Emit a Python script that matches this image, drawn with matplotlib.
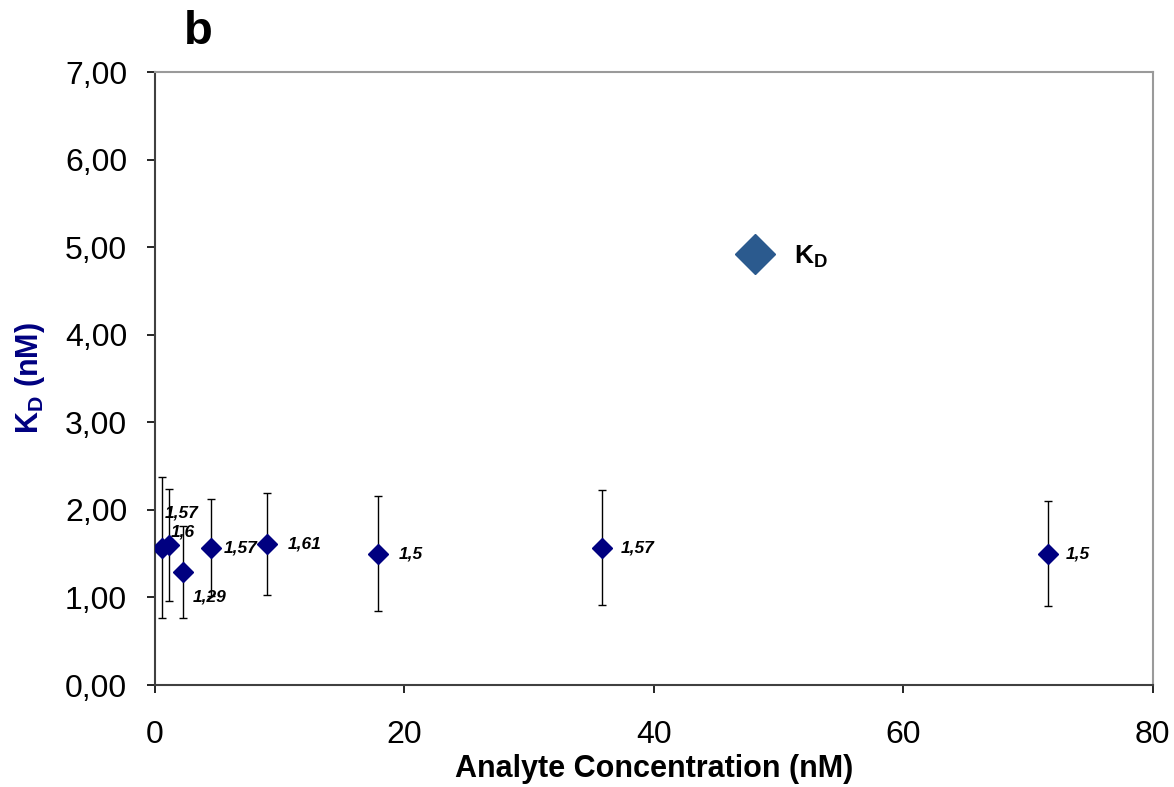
import matplotlib
matplotlib.use("Agg")
import matplotlib.pyplot as plt
from matplotlib.lines import Line2D
from matplotlib.ticker import FuncFormatter

# analyte concentration (nM), fitted KD (nM) and error bar half-widths
conc = [0.56, 1.12, 2.24, 4.48, 8.95, 17.9, 35.8, 71.6]
kd = [1.57, 1.6, 1.29, 1.57, 1.61, 1.5, 1.57, 1.5]
kd_err = [0.81, 0.64, 0.53, 0.55, 0.58, 0.66, 0.66, 0.60]
kd_labels = ["1,57", "1,6", "1,29", "1,57", "1,61", "1,5", "1,57", "1,5"]
x_ticks = [0, 20, 40, 60, 80]
y_ticks = [0, 1, 2, 3, 4, 5, 6, 7]

plt.rcParams["font.family"] = ["Liberation Sans", "DejaVu Sans"]
plt.rcParams["mathtext.fontset"] = "custom"
plt.rcParams["mathtext.rm"] = "Liberation Sans"
plt.rcParams["mathtext.bf"] = "Liberation Sans:bold"
plt.rcParams["mathtext.it"] = "Liberation Sans:italic"

fig = plt.figure(figsize=(11.74, 7.87), dpi=100)
ax = fig.add_axes([0.132, 0.1296, 0.850, 0.7789])

ax.errorbar(conc, kd, yerr=kd_err, fmt="none", ecolor="black",
            elinewidth=1, capsize=3, capthick=1, zorder=2)
ax.plot(conc, kd, linestyle="none", marker="D", markersize=10,
        color="#000080", zorder=3)

# label offsets in points (crowded points near the origin are shifted)
offsets = [(2, 25), (1.5, 9), (7, -18), (9, 0), (15, 0), (15, 0), (14, 0), (13, 0)]
for x, y, lab, off in zip(conc, kd, kd_labels, offsets):
    ax.annotate(lab, (x, y), xytext=off, textcoords="offset points",
                fontsize=12.5, fontweight="bold", fontstyle="italic",
                ha="left", va="center", zorder=4)

ax.set_xlim(0, 80)
ax.set_ylim(0, 7)
ax.set_xticks(x_ticks)
ax.set_yticks(y_ticks)
ax.yaxis.set_major_formatter(FuncFormatter(lambda v, p: f"{v:.2f}".replace(".", ",")))
ax.tick_params(direction="out", length=6, width=1.2, labelsize=23)
ax.tick_params(axis="y", pad=14)
ax.tick_params(axis="x", pad=19)

for side in ["left", "bottom"]:
    ax.spines[side].set_color("#404040")
    ax.spines[side].set_linewidth(1.5)
for side in ["top", "right"]:
    ax.spines[side].set_color("#9a9a9a")
    ax.spines[side].set_linewidth(1.5)

ax.set_xlabel("Analyte Concentration (nM)", fontsize=22, fontweight="bold", labelpad=3)
ax.set_ylabel(r"K$_\mathbf{D}$ (nM)", fontsize=22, fontweight="bold",
              color="#000080", labelpad=13)

handle = Line2D([], [], linestyle="none", marker="D", markersize=20, color="#2B5A8E")
ax.legend([handle], [r"$\mathbf{K_D}$"], loc="center left", bbox_to_anchor=(0.564, 0.699),
          frameon=False, fontsize=19, handletextpad=0.5, borderaxespad=0)

fig.text(0.157, 0.959, "b", fontsize=34, fontweight="bold", ha="left", va="center")

fig.savefig("out.png", dpi=100)
